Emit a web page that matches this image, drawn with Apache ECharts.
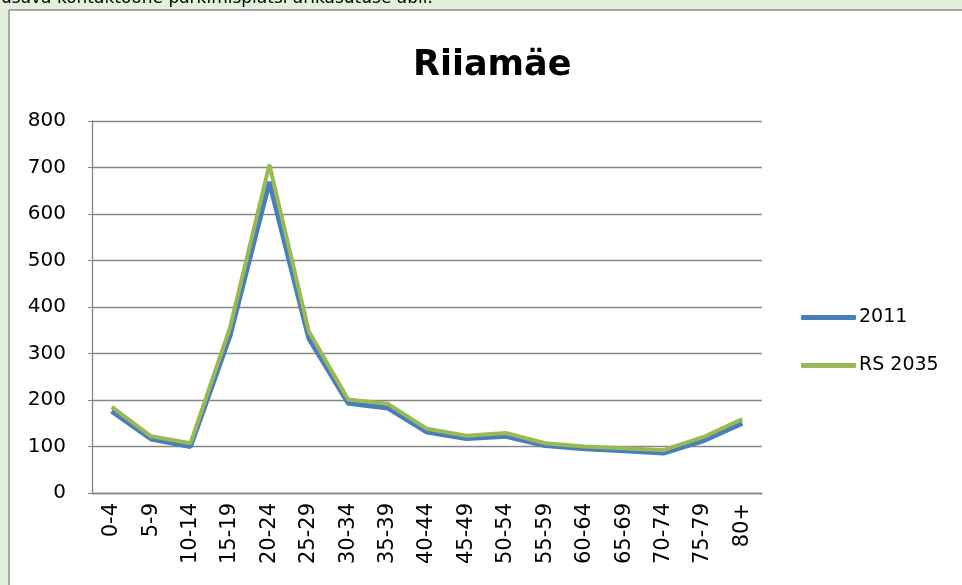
<!DOCTYPE html>
<html>
<head>
<meta charset="utf-8">
<script src="https://cdn.jsdelivr.net/npm/echarts@6/dist/echarts.min.js"></script>
<style>
html,body{margin:0;padding:0;background:#ffffff;overflow:hidden;width:962px;height:585px;}
#chart{width:1000px;height:600px;}
</style>
</head>
<body>
<div id="chart"></div>
<script>
var categories = ['0-4','5-9','10-14','15-19','20-24','25-29','30-34','35-39','40-44','45-49','50-54','55-59','60-64','65-69','70-74','75-79','80+'];
var values2011 = [176,116,100,338,669,333,193,183,131,117,122,102,95,91,86,112,150];
var valuesRS2035 = [185,122,107,355,706,348,201,192,138,123,129,107,100,96,92,120,159];
var seriesNames = ['2011','RS 2035'];
var titleText = 'Riiamäe';
var topText = 'usava kontaktoone parkimisplatsi ärikasutuse abil.';

var FONT = 'DejaVu Sans';
var chart = echarts.init(document.getElementById('chart'), null, {renderer:'canvas', width:1000, height:600});
chart.setOption({
  backgroundColor:'#e2efda',
  animation:false,
  graphic:[
    {type:'rect', shape:{x:9, y:10, width:1000, height:600}, style:{fill:'#ffffff'}, z:-10, silent:true},
    {type:'line', shape:{x1:9, y1:10, x2:1000, y2:10}, style:{stroke:'#8c8c8c', lineWidth:1.5}, z:-9, silent:true},
    {type:'line', shape:{x1:9, y1:10, x2:9, y2:600}, style:{stroke:'#8c8c8c', lineWidth:1.5}, z:-9, silent:true},
    {type:'text', x:1, y:7, z:10, silent:true, style:{text:topText, font:'17px "DejaVu Sans"', fill:'#000', verticalAlign:'bottom'}}
  ],
  title:{text:titleText, left:413, top:48, textStyle:{fontFamily:FONT, fontSize:35, fontWeight:'bold', color:'#000'}, padding:0, itemGap:0},
  grid:{left:92, right:238, top:121, bottom:107, containLabel:false},
  legend:{
    orient:'vertical', left:801, top:308, padding:0, itemWidth:55, itemHeight:5, itemGap:29,
    icon:'roundRect',
    textStyle:{fontFamily:FONT, fontSize:19, color:'#000', padding:[0,0,0,-2]},
    data:seriesNames
  },
  xAxis:{
    type:'category', data:categories, boundaryGap:true,
    axisLine:{lineStyle:{color:'#868686', width:1.3}},
    axisTick:{show:false},
    axisLabel:{rotate:90, interval:0, margin:10, fontFamily:FONT, fontSize:21, color:'#000'}
  },
  yAxis:{
    type:'value', min:0, max:800, interval:100,
    axisLine:{show:true, lineStyle:{color:'#868686', width:1.3}},
    axisTick:{show:true, length:4, inside:false, lineStyle:{color:'#868686'}},
    splitLine:{lineStyle:{color:'#868686', width:1.3}},
    axisLabel:{margin:26, fontFamily:FONT, fontSize:20, color:'#000'}
  },
  series:[
    {name:seriesNames[0], type:'line', data:values2011, symbol:'none', lineStyle:{color:'#4a7ebb', width:5}, itemStyle:{color:'#4a7ebb'}, z:2},
    {name:seriesNames[1], type:'line', data:valuesRS2035, symbol:'none', lineStyle:{color:'#98b954', width:4}, itemStyle:{color:'#98b954'}, z:3}
  ]
});
</script>
</body>
</html>
